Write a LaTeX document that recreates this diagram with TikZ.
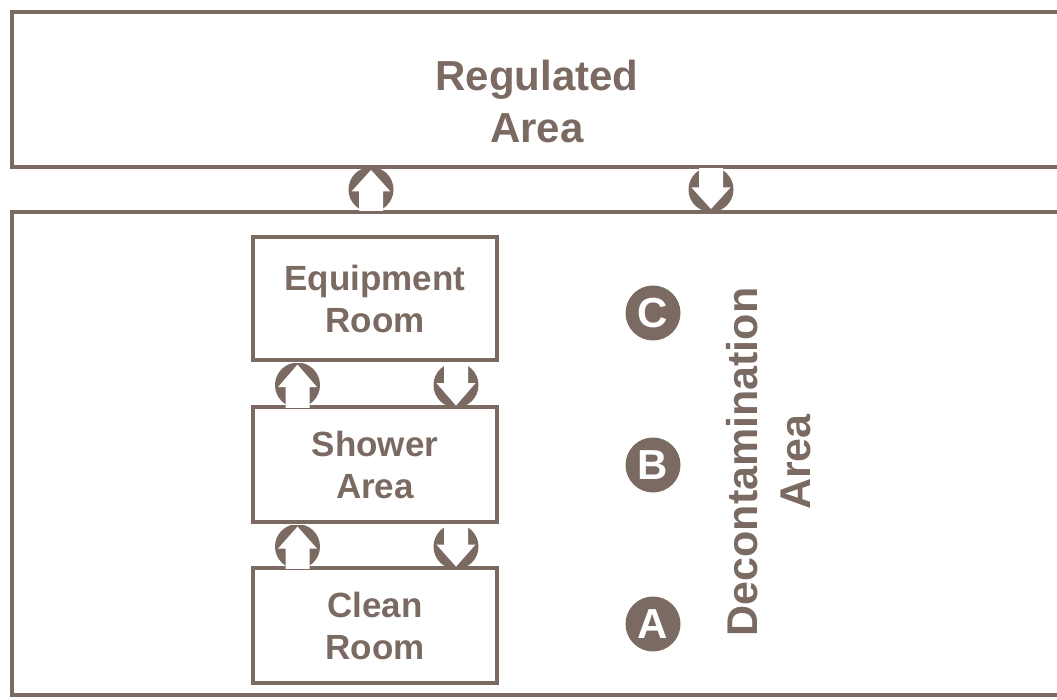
\documentclass[tikz,border=0pt]{standalone}
\usepackage{fontspec}
\setmainfont{Liberation Sans}
\usetikzlibrary{calc}
\definecolor{brn}{HTML}{7B6A62}
\newcommand\doorup[2]{%
\begin{scope}[shift={(#1)}]
\clip (-30,1.6) rectangle (30,#2-1.6);
\fill[brn] (0,#2/2) circle (22.5);
\fill[white] (0,3) -- (19.5,#2/2+2) -- (12,#2/2+2) -- (12,#2) -- (-12,#2) -- (-12,#2/2+2) -- (-19.5,#2/2+2) -- cycle;
\end{scope}}
\newcommand\doordown[2]{%
\begin{scope}[shift={(#1)}]
\clip (-30,1.6) rectangle (30,#2-1.6);
\fill[brn] (0,#2/2) circle (22.5);
\fill[white] (0,#2-3) -- (19.5,#2/2-2) -- (12,#2/2-2) -- (12,0) -- (-12,0) -- (-12,#2/2-2) -- (-19.5,#2/2-2) -- cycle;
\end{scope}}
\begin{document}
\begin{tikzpicture}[x=1pt,y=-1pt,
  room/.style={draw=brn,line width=3.2pt,minimum width=244pt,align=center,inner sep=0pt,
    text=brn,font=\bfseries\fontsize{35}{42}\selectfont},
  wall/.style={draw=brn,line width=3.4pt},
  badge/.style={circle,fill=brn,minimum size=55pt,inner sep=0pt,text=white,font=\bfseries\fontsize{42}{42}\selectfont},
  bigtxt/.style={text=brn,align=center,font=\bfseries\fontsize{42}{52}\selectfont}]
\useasboundingbox (0,0) rectangle (1057,700);
\clip (0,0) rectangle (1057,700);
% outer areas
\draw[wall] (1070,12) -- (12,12) -- (12,167) -- (1070,167);
\draw[wall] (1070,212) -- (12,212) -- (12,695) -- (1070,695);
\draw[brn,line width=4.5pt] (12,12) -- (12,167);
\draw[brn,line width=4.5pt] (12,212) -- (12,695);
\node[bigtxt] (reg) at (537,101) {Regulated\\Area};
% rooms
\node[room,minimum height=123pt] (eq) at (375,298.5) {Equipment\\Room};
\node[room,minimum height=115pt] (sh) at (375,464.5) {Shower\\Area};
\node[room,minimum height=115pt] (cl) at (375,625.5) {Clean\\Room};
% doors
\coordinate (d1) at (371,167);
\coordinate (d2) at (711,167);
\coordinate (d3) at ($(eq.south)+(-77.5,0)$);
\coordinate (d4) at ($(eq.south)+(81,0)$);
\coordinate (d5) at ($(sh.south)+(-77.5,0)$);
\coordinate (d6) at ($(sh.south)+(81,0)$);
\doorup{d1}{45}
\doordown{d2}{45}
\doorup{d3}{47}
\doordown{d4}{47}
\doorup{d5}{46}
\doordown{d6}{46}
% badges
\node[badge] (c) at (653,313) {C};
\node[badge] (b) at (653,465) {B};
\node[badge] (a) at (653,624) {A};
\node[bigtxt,rotate=90,font=\bfseries\fontsize{43}{53}\selectfont] (dec) at (769,462) {Decontamination\\Area};
\end{tikzpicture}
\end{document}
